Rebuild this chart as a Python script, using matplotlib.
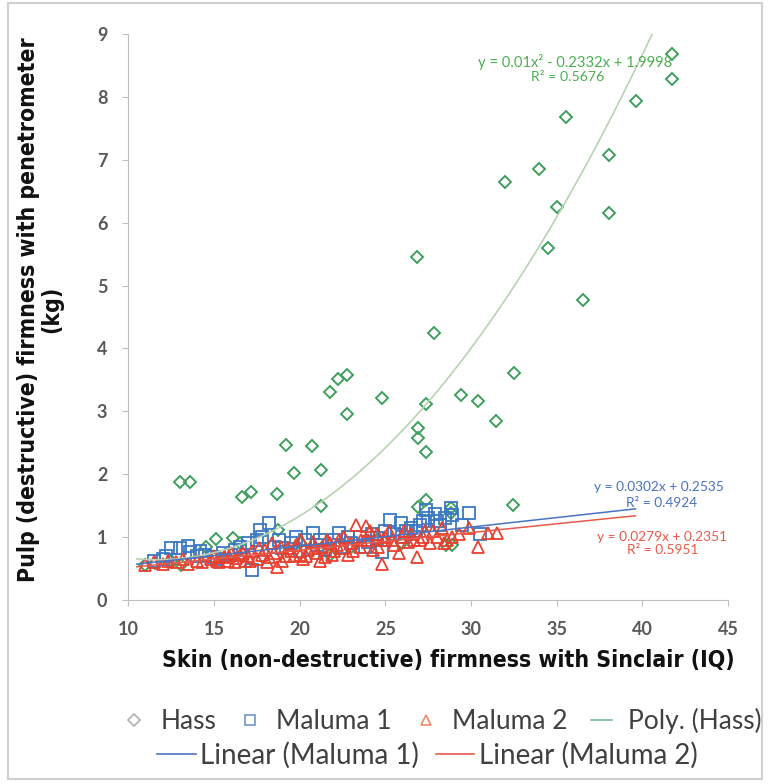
import matplotlib
matplotlib.use("Agg")
import matplotlib.pyplot as plt
import numpy as np
from matplotlib.lines import Line2D
from matplotlib.patches import Rectangle

# Hass (diamonds)
hass_x = [11.0, 11.55, 12.5, 13.04, 13.59, 13.1, 14.56, 15.1, 16.1, 16.5, 16.64, 17.14,
          18.7, 18.73, 19.22, 19.67, 20.0, 20.72, 21.22, 21.22, 21.75, 21.75, 22.23,
          22.74, 22.78, 23.0, 24.5, 24.82, 26.0, 26.86, 26.9, 26.9, 26.9, 27.35, 27.39,
          27.4, 27.83, 28.55, 28.85, 28.85, 28.9, 29.43, 30.4, 31.47, 31.97, 32.5,
          32.46, 33.99, 34.52, 35.03, 35.55, 36.56, 38.08, 38.08, 39.63, 41.72, 41.72]
hass_y = [0.55, 0.59, 0.62, 1.87, 1.87, 0.55, 0.85, 0.97, 0.98, 0.9, 1.63, 1.71,
          1.69, 1.11, 2.47, 2.02, 0.9, 2.45, 2.07, 1.49, 3.31, 0.72, 3.52,
          2.95, 3.57, 0.85, 0.95, 3.22, 0.9, 5.46, 2.74, 2.57, 1.48, 2.36, 3.11,
          1.59, 4.24, 0.87, 1.46, 1.39, 0.87, 3.26, 3.17, 2.85, 6.64, 3.61,
          1.51, 6.86, 5.6, 6.25, 7.68, 4.77, 7.08, 6.16, 7.93, 8.69, 8.28]

# Maluma 1 (squares)
m1_x = [11.5, 12.0, 12.5, 13.0, 13.5, 13.6, 14.0, 14.5, 15.0, 15.5, 16.0, 16.5, 17.0,
        17.2, 17.5, 17.7, 17.8, 18.2, 18.5, 19.0, 19.5, 20.0, 20.3, 20.8, 21.0, 21.5,
        22.0, 22.3, 22.5, 23.0, 23.5, 24.0, 24.5, 24.8, 25.0, 25.25, 25.5, 25.9, 26.0,
        26.5, 26.8, 27.0, 27.35, 27.5, 27.9, 28.0, 28.5, 28.85, 28.9, 29.5, 29.9, 30.5,
        12.2, 14.2, 15.2, 16.2, 18.8, 19.8, 21.2, 22.8, 23.8, 24.2, 26.2, 27.2, 28.2]
m1_y = [0.62, 0.65, 0.82, 0.82, 0.86, 0.77, 0.7, 0.72, 0.68, 0.75, 0.72, 0.85, 0.9,
        0.48, 0.95, 1.11, 1.0, 1.23, 0.85, 0.82, 0.9, 0.78, 0.95, 1.06, 0.88, 0.8,
        0.95, 1.06, 0.85, 0.9, 1.0, 0.92, 0.98, 0.77, 1.1, 1.27, 1.05, 1.22, 1.0,
        1.15, 1.09, 1.2, 1.43, 1.3, 1.36, 1.25, 1.3, 1.46, 1.35, 1.2, 1.39, 1.05,
        0.7, 0.78, 0.65, 0.8, 0.95, 1.0, 0.95, 1.0, 0.85, 1.05, 1.1, 1.25, 1.2]

# Maluma 2 (triangles)
m2_x = [11.0, 11.5, 12.0, 12.3, 12.8, 13.2, 13.5, 14.0, 14.3, 14.8, 15.0, 15.3, 15.6,
        15.8, 16.0, 16.3, 16.5, 16.8, 17.0, 17.2, 17.5, 17.8, 18.0, 18.2, 18.5, 18.7,
        18.9, 19.2, 19.5, 19.8, 20.0, 20.2, 20.5, 20.8, 21.0, 21.3, 21.5, 21.8, 22.0,
        22.3, 22.5, 22.8, 23.0, 23.3, 23.5, 23.9, 24.0, 24.3, 24.5, 24.8, 24.9, 25.2,
        25.5, 25.8, 26.0, 26.3, 26.5, 26.85, 27.0, 27.3, 27.6, 28.0, 28.3, 28.6, 28.9,
        29.3, 29.9, 30.4, 31.0, 31.5,
        15.2, 15.9, 16.2, 16.7, 17.1, 17.6, 18.1, 18.4, 19.0, 19.3, 19.7, 20.1, 20.4,
        20.9, 21.2, 21.6, 21.9, 22.2, 22.6, 23.1, 23.6, 24.1, 24.6, 25.0, 25.4, 26.1,
        26.7, 27.2, 27.8, 28.4]
m2_y = [0.55, 0.6, 0.58, 0.62, 0.6, 0.65, 0.58, 0.62, 0.6, 0.65, 0.7, 0.6, 0.68,
        0.62, 0.75, 0.66, 0.72, 0.62, 0.7, 0.78, 0.65, 0.72, 0.8, 0.68, 0.75, 0.53,
        0.85, 0.7, 0.78, 0.88, 0.72, 0.65, 0.8, 0.92, 0.75, 0.85, 0.68, 0.9, 0.78,
        0.95, 0.82, 0.72, 0.9, 1.19, 0.85, 1.17, 0.95, 0.8, 1.05, 0.58, 0.95, 1.1,
        0.88, 0.74, 1.0, 0.92, 1.05, 0.69, 0.95, 1.1, 0.9, 1.0, 1.15, 0.95, 1.0,
        1.05, 1.14, 0.85, 1.07, 1.06,
        0.62, 0.7, 0.6, 0.75, 0.62, 0.82, 0.6, 0.9, 0.62, 0.82, 0.7, 0.95, 0.7,
        0.82, 0.62, 0.95, 0.72, 0.88, 1.0, 0.78, 0.95, 1.1, 0.85, 1.0, 0.95, 1.1,
        0.95, 1.0, 1.1, 0.9]

# trendline coefficients (from the chart labels)
poly_c = [0.01, -0.2332, 1.9998]
lin1 = [0.0302, 0.2535]
lin2 = [0.0279, 0.2351]

green = "#3f9f5f"
blue = "#3b78c4"
red = "#e8402f"
poly_col = "#b9d3b2"
lin1_col = "#4a73c0"
lin2_col = "#e85a4a"

plt.rcParams["font.family"] = ["Lato", "DejaVu Sans"]
label_font = dict(family="DejaVu Sans", fontstretch="condensed", fontweight="bold",
                  fontsize=16.5, color="#111111")

fig = plt.figure(figsize=(7.68, 7.84), dpi=100)
ax = fig.add_axes([0.167, 0.2347, 0.781, 0.7219])

ax.plot(hass_x, hass_y, ls="none", marker="D", ms=6.5, mfc="none", mec=green, mew=1.4)
ax.plot(m1_x, m1_y, ls="none", marker="s", ms=8, mfc="none", mec=blue, mew=1.3)
ax.plot(m2_x, m2_y, ls="none", marker="^", ms=8.5, mfc="none", mec=red, mew=1.3)

xp = np.linspace(10.5, 41.0, 200)
ax.plot(xp, np.polyval(poly_c, xp), color=poly_col, lw=1.2)
xl = np.linspace(10.5, 39.6, 2)
ax.plot(xl, np.polyval(lin1, xl), color=lin1_col, lw=1.1)
ax.plot(xl, np.polyval(lin2, xl), color=lin2_col, lw=1.1)

ax.set_xlim(10, 45)
ax.set_ylim(0, 9)
ax.set_xticks(range(10, 46, 5))
ax.set_yticks(range(0, 10))
for s in ["top", "right"]:
    ax.spines[s].set_visible(False)
for s in ["left", "bottom"]:
    ax.spines[s].set_color("#bfbfbf")
ax.tick_params(colors="#bfbfbf", labelcolor="#595959", labelsize=13, length=4, pad=11)
for lab in ax.get_xticklabels() + ax.get_yticklabels():
    lab.set_fontweight("bold")

# trendline equations
ax.text(30.4, 8.55, "y = 0.01x² - 0.2332x + 1.9998", color="#4caf50", fontsize=10.6, va="center")
ax.text(33.5, 8.31, "R² = 0.5676", color="#4caf50", fontsize=10.2, va="center")
ax.text(37.2, 1.80, "y = 0.0302x + 0.2535", color=lin1_col, fontsize=9.9, va="center")
ax.text(39.05, 1.54, "R² = 0.4924", color=lin1_col, fontsize=9.9, va="center")
ax.text(37.35, 1.00, "y = 0.0279x + 0.2351", color=lin2_col, fontsize=9.9, va="center")
ax.text(39.1, 0.79, "R² = 0.5951", color=lin2_col, fontsize=9.9, va="center")

fig.text(0.584, 1 - 661 / 784, "Skin (non-destructive) firmness with Sinclair (IQ)",
         ha="center", va="center", **label_font)
fig.text(0.052, 0.605, "Pulp (destructive) firmness with penetrometer\n(kg)",
         ha="center", va="center", rotation=90, multialignment="center",
         linespacing=1.0, **label_font)

h1 = [Line2D([], [], ls="none", marker="D", ms=6, mfc="none", mec="#b0b0b0", mew=1.2),
      Line2D([], [], ls="none", marker="s", ms=7, mfc="none", mec="#6f93d0", mew=1.2),
      Line2D([], [], ls="none", marker="^", ms=7, mfc="none", mec="#f08a6a", mew=1.2),
      Line2D([], [], color="#6fb8a4", lw=1.2)]
fig.legend(h1, ["Hass", "Maluma 1", "Maluma 2", "Poly. (Hass)"], ncol=4,
           loc="center left", bbox_to_anchor=(123.5 / 768, 1 - 721 / 784), frameon=False,
           borderpad=0, borderaxespad=0, fontsize=19, handlelength=0.8,
           columnspacing=0.89, handletextpad=0.59, labelcolor="#404040")
h2 = [Line2D([], [], color=lin1_col, lw=1.2), Line2D([], [], color=lin2_col, lw=1.2)]
fig.legend(h2, ["Linear (Maluma 1)", "Linear (Maluma 2)"], ncol=2,
           loc="center left", bbox_to_anchor=(157 / 768, 1 - 755 / 784), frameon=False,
           borderpad=0, borderaxespad=0, fontsize=20, handlelength=1.4,
           columnspacing=0.6, handletextpad=0.15, labelcolor="#404040")

fig.patches.append(Rectangle((0.01, 0.006), 0.982, 0.99, transform=fig.transFigure,
                             fill=False, edgecolor="#d0d0d0", lw=1.5))

fig.savefig("out.png", dpi=100)
